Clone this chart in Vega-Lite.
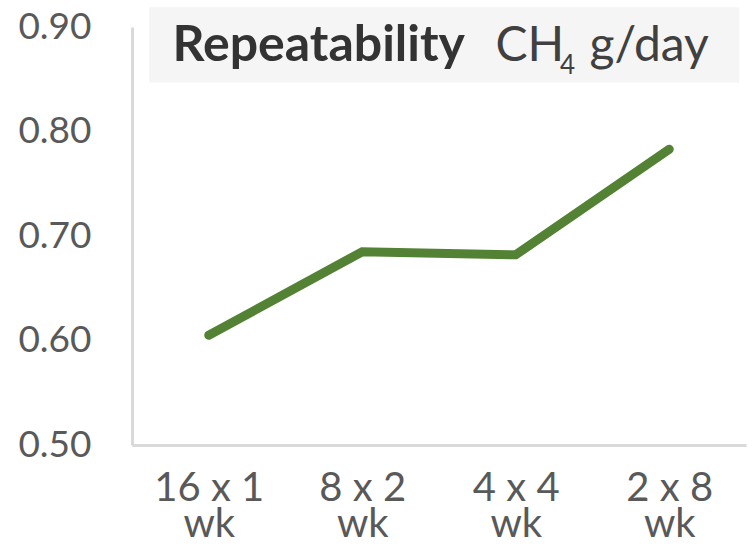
{
  "$schema": "https://vega.github.io/schema/vega-lite/v6.json",
  "autosize": "none",
  "padding": {"left": 132, "top": 27, "right": 9, "bottom": 103},
  "width": 614,
  "height": 418,
  "background": "white",
  "config": {
    "view": {"stroke": null},
    "font": "Lato"
  },
  "datasets": {
    "series": [
      {"schedule": "16 x 1 wk", "repeatability": 0.605},
      {"schedule": "8 x 2 wk", "repeatability": 0.685},
      {"schedule": "4 x 4 wk", "repeatability": 0.682},
      {"schedule": "2 x 8 wk", "repeatability": 0.783}
    ],
    "box": [{"x1": 0.028, "x2": 0.989, "y1": 0.847, "y2": 0.919}],
    "titleBold": [{"pos": 0.066, "y": 0.867, "label": "Repeatability"}],
    "titleMain": [{"pos": 0.592, "y": 0.867, "label": "CH"}, {"pos": 0.745, "y": 0.867, "label": "g/day"}],
    "titleSub": [{"pos": 0.697, "y": 0.855, "label": "4"}]
  },
  "resolve": {"scale": {"x": "independent"}, "axis": {"x": "independent"}},
  "layer": [
    {
      "data": {"name": "box"},
      "mark": {"type": "rect", "color": "#f2f2f2", "opacity": 0.75, "clip": false},
      "encoding": {
        "x": {"field": "x1", "type": "quantitative", "scale": {"domain": [0, 1]}, "axis": null},
        "x2": {"field": "x2"},
        "y": {"field": "y1", "type": "quantitative", "scale": {"domain": [0.5, 0.9], "nice": false, "zero": false}},
        "y2": {"field": "y2"}
      }
    },
    {
      "data": {"name": "series"},
      "mark": {"type": "line", "color": "#548235", "strokeWidth": 9, "strokeCap": "round", "strokeJoin": "miter"},
      "encoding": {
        "x": {
          "field": "schedule",
          "type": "ordinal",
          "sort": null,
          "scale": {"type": "point", "padding": 0.5},
          "axis": {
            "title": null,
            "labelExpr": "[split(datum.label, ' wk')[0], 'wk']",
            "labelAngle": 0,
            "labelFont": "Lato",
            "labelFontSize": 40,
            "labelColor": "#595959",
            "labelLineHeight": 36,
            "labelPadding": 23,
            "ticks": false,
            "domainColor": "#d9d9d9",
            "domainWidth": 3
          }
        },
        "y": {
          "field": "repeatability",
          "type": "quantitative",
          "scale": {"domain": [0.5, 0.9], "nice": false, "zero": false},
          "axis": {
            "title": null,
            "values": [0.5, 0.6, 0.7, 0.8, 0.9],
            "format": ".2f",
            "grid": false,
            "ticks": false,
            "labelFont": "Lato",
            "labelFontSize": 37,
            "labelColor": "#595959",
            "labelPadding": 41,
            "domainColor": "#d9d9d9",
            "domainWidth": 3
          }
        }
      }
    },
    {
      "data": {"name": "titleBold"},
      "mark": {"type": "text", "align": "left", "baseline": "alphabetic", "font": "Lato", "fontWeight": "bold", "fontSize": 50, "color": "#333333"},
      "encoding": {
        "x": {"field": "pos", "type": "quantitative", "scale": {"domain": [0, 1]}, "axis": null},
        "y": {"field": "y", "type": "quantitative"},
        "text": {"field": "label"}
      }
    },
    {
      "data": {"name": "titleMain"},
      "mark": {"type": "text", "align": "left", "baseline": "alphabetic", "font": "Lato", "fontSize": 48, "color": "#404040"},
      "encoding": {
        "x": {"field": "pos", "type": "quantitative", "scale": {"domain": [0, 1]}, "axis": null},
        "y": {"field": "y", "type": "quantitative"},
        "text": {"field": "label"}
      }
    },
    {
      "data": {"name": "titleSub"},
      "mark": {"type": "text", "align": "left", "baseline": "alphabetic", "font": "Lato", "fontSize": 26, "color": "#404040"},
      "encoding": {
        "x": {"field": "pos", "type": "quantitative", "scale": {"domain": [0, 1]}, "axis": null},
        "y": {"field": "y", "type": "quantitative"},
        "text": {"field": "label"}
      }
    }
  ]
}
